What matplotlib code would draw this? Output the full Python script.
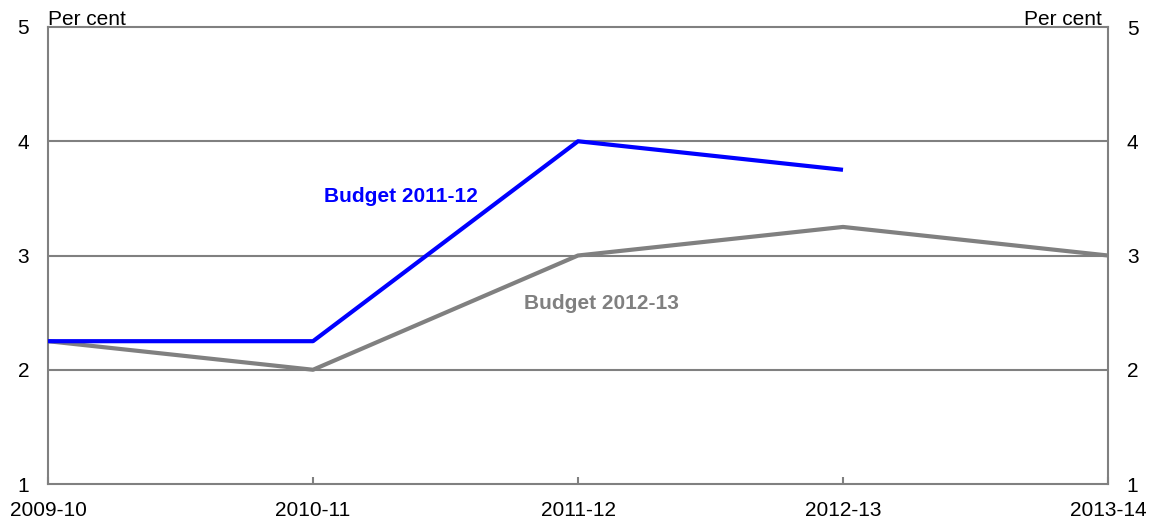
import matplotlib
matplotlib.use("Agg")
import matplotlib.pyplot as plt

years = ["2009-10", "2010-11", "2011-12", "2012-13", "2013-14"]
budget_2011 = [2.25, 2.25, 4.0, 3.75]
budget_2012 = [2.25, 2.0, 3.0, 3.25, 3.0]
y_ticks = [1, 2, 3, 4, 5]

plt.rcParams["font.family"] = ["Liberation Sans", "DejaVu Sans"]
BLUE = "#0000FF"
GREY = "#808080"
FS = 15

fig = plt.figure(figsize=(11.56, 5.21), dpi=100)
ax = fig.add_axes([48 / 1156, 1 - 484 / 521, 1060 / 1156, 457 / 521])

x_all = list(range(len(years)))
ax.plot(x_all, budget_2012, color=GREY, lw=3.0, solid_capstyle="butt", zorder=3)
ax.plot(x_all[:len(budget_2011)], budget_2011, color=BLUE, lw=3.0,
        solid_capstyle="butt", zorder=4)

ax.set_xlim(0, len(years) - 1)
ax.set_ylim(1, 5)
ax.set_xticks(x_all)
ax.set_xticklabels(years, fontsize=FS)
ax.set_yticks(y_ticks)
ax.set_yticklabels([str(v) for v in y_ticks], fontsize=FS)

for v in y_ticks[1:-1]:
    ax.axhline(v, color=GREY, lw=1.5, zorder=1)

for s in ax.spines.values():
    s.set_color(GREY)
    s.set_linewidth(1.5)

ax.tick_params(axis="x", direction="in", length=5, width=1.5, color=GREY, pad=12)
ax.tick_params(axis="y", length=0, pad=13.5)

# right-hand axis mirrors the left
ax2 = ax.twinx()
ax2.set_ylim(1, 5)
ax2.set_yticks(y_ticks)
ax2.set_yticklabels([str(v) for v in y_ticks], fontsize=FS)
ax2.tick_params(axis="y", length=0, pad=13.5)
for s in ax2.spines.values():
    s.set_visible(False)

fig.text(48 / 1156, 1 - 25 / 521, "Per cent", fontsize=FS, va="baseline", ha="left")
fig.text(1102 / 1156, 1 - 25 / 521, "Per cent", fontsize=FS, va="baseline", ha="right")

ax.text(1.33, 3.47, "Budget 2011-12", color=BLUE, fontsize=FS, fontweight="bold",
        ha="center", va="baseline")
ax.text(2.09, 2.53, "Budget 2012-13", color=GREY, fontsize=FS, fontweight="bold",
        ha="center", va="baseline")

fig.savefig("out.png", dpi=100)
